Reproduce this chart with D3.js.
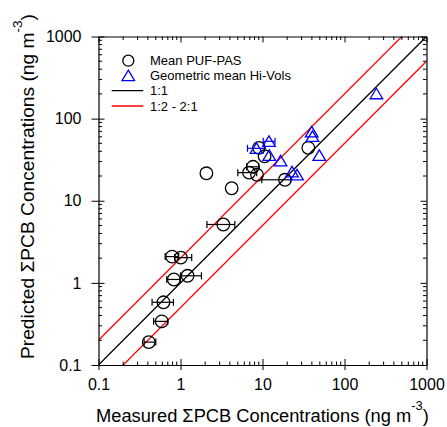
<!DOCTYPE html>
<html><head><meta charset="utf-8">
<script src="https://cdnjs.cloudflare.com/ajax/libs/d3/7.8.5/d3.min.js"></script>
<style>body{margin:0;background:#fff;} svg{display:block;}</style>
</head><body>
<svg id="c" width="447" height="427"></svg>
<script>
// ---- data ----
const tickValues = [0.1, 1, 10, 100, 1000];
const tickLabels = ["0.1", "1", "10", "100", "1000"];
// Mean PUF-PAS (measured x, predicted y), horizontal error limits
const pufX   = [0.41, 0.59, 0.62, 0.83, 1.22, 0.79, 1.01, 2.07, 4.21, 3.33, 6.85, 7.66, 8.57, 9.06, 10.6, 18.8, 36.2];
const pufY   = [0.19, 0.34, 0.58, 1.10, 1.22, 2.09, 2.03, 21.6, 14.2, 5.14, 22.0, 25.9, 20.7, 44.1, 34.8, 18.0, 44.1];
const pufXLo = [0.36, 0.47, 0.45, 0.68, 1.00, 0.65, 0.85, null, null, 2.1, 5.0, 6.4, null, null, null, 9.8, null];
const pufXHi = [0.50, 0.70, 0.82, 0.99, 1.80, 0.95, 1.37, null, null, 4.6, 8.5, 9.0, null, null, null, 22, null];
// Geometric mean Hi-Vols
const hvX   = [8.45, 12.0, 12.1, 16.6, 22.9, 26.4, 39.8, 40.7, 49.3, 245];
const hvY   = [43.5, 52.9, 35.7, 30.6, 22.5, 20.7, 69.0, 60.8, 35.7, 201];
const hvXLo = [6.56, 10.2, null, null, null, null, null, null, null, null];
const hvXHi = [10.5, 14.2, null, null, null, null, null, null, null, null];
// reference lines: ratio predicted/measured
const ratioLines = [1, 2, 0.5];
const legendLabels = ["Mean PUF-PAS", "Geometric mean Hi-Vols", "1:1", "1:2 - 2:1"];

// ---- layout ----
const L = 98.5, R = 426.5, T = 36.5, B = 365;
const svg = d3.select("#c");
const x = d3.scaleLog().domain([0.1, 1000]).range([L, R]);
const y = d3.scaleLog().domain([0.1, 1000]).range([B, T]);
const font = "'Liberation Sans', Arial, sans-serif";

svg.append("clipPath").attr("id", "clip").append("rect")
  .attr("x", L).attr("y", T).attr("width", R - L).attr("height", B - T);

// reference lines
const lineG = svg.append("g").attr("clip-path", "url(#clip)");
ratioLines.forEach(r => {
  lineG.append("line")
    .attr("x1", x(0.1)).attr("y1", y(0.1 * r))
    .attr("x2", x(1000)).attr("y2", y(1000 * r))
    .attr("stroke", r === 1 ? "#000" : "#ff0000").attr("stroke-width", 1.3);
});

const minorTicks = [];
for (let e = -1; e < 3; e++) for (let k = 2; k <= 9; k++) minorTicks.push(k * Math.pow(10, e));

// bottom
const gb = svg.append("g").attr("transform", `translate(0,${B})`)
  .call(d3.axisBottom(x).tickValues(tickValues).tickSizeInner(-6).tickSizeOuter(0)
    .tickFormat((d, i) => tickLabels[i]).tickPadding(14));
gb.selectAll(".tick").append("line").attr("y1", 0).attr("y2", 5).attr("stroke", "#000");
gb.append("g").selectAll("line").data(minorTicks).join("line")
  .attr("x1", d => x(d)).attr("x2", d => x(d)).attr("y1", 0).attr("y2", -3.5).attr("stroke", "#000");
// top
const gt = svg.append("g").attr("transform", `translate(0,${T})`)
  .call(d3.axisTop(x).tickValues(tickValues).tickSizeInner(-6).tickSizeOuter(0).tickFormat(() => ""));
gt.append("g").selectAll("line").data(minorTicks).join("line")
  .attr("x1", d => x(d)).attr("x2", d => x(d)).attr("y1", 0).attr("y2", 3.5).attr("stroke", "#000");
// left
const gl = svg.append("g").attr("transform", `translate(${L},0)`)
  .call(d3.axisLeft(y).tickValues(tickValues).tickSizeInner(-6).tickSizeOuter(0)
    .tickFormat((d, i) => tickLabels[i]).tickPadding(17));
gl.selectAll(".tick").append("line").attr("x1", 0).attr("x2", -7).attr("stroke", "#000");
gl.append("g").selectAll("line").data(minorTicks).join("line")
  .attr("y1", d => y(d)).attr("y2", d => y(d)).attr("x1", 0).attr("x2", 3.5).attr("stroke", "#000");
// right
const gr = svg.append("g").attr("transform", `translate(${R},0)`)
  .call(d3.axisRight(y).tickValues(tickValues).tickSizeInner(-6).tickSizeOuter(0).tickFormat(() => ""));
gr.append("g").selectAll("line").data(minorTicks).join("line")
  .attr("y1", d => y(d)).attr("y2", d => y(d)).attr("x1", 0).attr("x2", -3.5).attr("stroke", "#000");

svg.selectAll(".domain").attr("stroke", "#000").attr("stroke-width", 1.2);
svg.selectAll(".tick text").attr("font-family", font).attr("font-size", 16).attr("fill", "#000");
svg.selectAll(".tick line").attr("stroke", "#000");

// error bars
function errBars(xs, ys, lo, hi, color) {
  const g = svg.append("g").attr("stroke", color).attr("stroke-width", 1.2).attr("fill", "none");
  xs.forEach((xv, i) => {
    if (lo[i] == null) return;
    const yy = y(ys[i]), a = x(lo[i]), b = x(hi[i]);
    g.append("line").attr("x1", a).attr("x2", b).attr("y1", yy).attr("y2", yy);
    g.append("line").attr("x1", a).attr("x2", a).attr("y1", yy - 3.5).attr("y2", yy + 3.5);
    g.append("line").attr("x1", b).attr("x2", b).attr("y1", yy - 3.5).attr("y2", yy + 3.5);
  });
}
errBars(pufX, pufY, pufXLo, pufXHi, "#000");
errBars(hvX, hvY, hvXLo, hvXHi, "#0000ff");

const triPath = "M0,-5.5L6.3,5L-6.3,5Z";
svg.append("g").selectAll("circle").data(pufX).join("circle")
  .attr("cx", d => x(d)).attr("cy", (d, i) => y(pufY[i])).attr("r", 6.3)
  .attr("fill", "none").attr("stroke", "#000").attr("stroke-width", 1.3);
svg.append("g").selectAll("path").data(hvX).join("path")
  .attr("d", triPath).attr("transform", (d, i) => `translate(${x(d)},${y(hvY[i])})`)
  .attr("fill", "none").attr("stroke", "#0000ff").attr("stroke-width", 1.3);

// legend
const lg = svg.append("g");
const rowsY = [60.7, 75.7, 90.7, 106];
lg.append("circle").attr("cx", 128.3).attr("cy", rowsY[0]).attr("r", 5.5)
  .attr("fill", "none").attr("stroke", "#000").attr("stroke-width", 1.3);
lg.append("path").attr("d", triPath).attr("transform", `translate(128.3,${rowsY[1]})`)
  .attr("fill", "none").attr("stroke", "#0000ff").attr("stroke-width", 1.3);
lg.append("line").attr("x1", 111.7).attr("x2", 143.3).attr("y1", rowsY[2]).attr("y2", rowsY[2])
  .attr("stroke", "#000").attr("stroke-width", 1.3);
lg.append("line").attr("x1", 111.7).attr("x2", 143.3).attr("y1", rowsY[3]).attr("y2", rowsY[3])
  .attr("stroke", "#ff0000").attr("stroke-width", 1.3);
legendLabels.forEach((t, i) => {
  lg.append("text").attr("x", 150).attr("y", rowsY[i] + 4.6).text(t)
    .attr("font-family", font).attr("font-size", 13).attr("fill", "#000");
});

// axis titles
const xt = svg.append("text").attr("x", 96).attr("y", 422)
  .attr("font-family", font).attr("font-size", 18.3).attr("fill", "#000");
xt.append("tspan").text("Measured \u03A3PCB Concentrations (ng m");
xt.append("tspan").text("-3").attr("font-size", 13).attr("dy", -12);
xt.append("tspan").text(")").attr("dy", 12);

const yt = svg.append("text").attr("transform", "translate(34,359) rotate(-90)")
  .attr("font-family", font).attr("font-size", 19.2).attr("fill", "#000");
yt.append("tspan").text("Predicted \u03A3PCB Concentrations (ng m");
yt.append("tspan").text("-3").attr("font-size", 13.5).attr("dy", -12.5);
yt.append("tspan").text(")").attr("dy", 12.5);
</script>
</body></html>
